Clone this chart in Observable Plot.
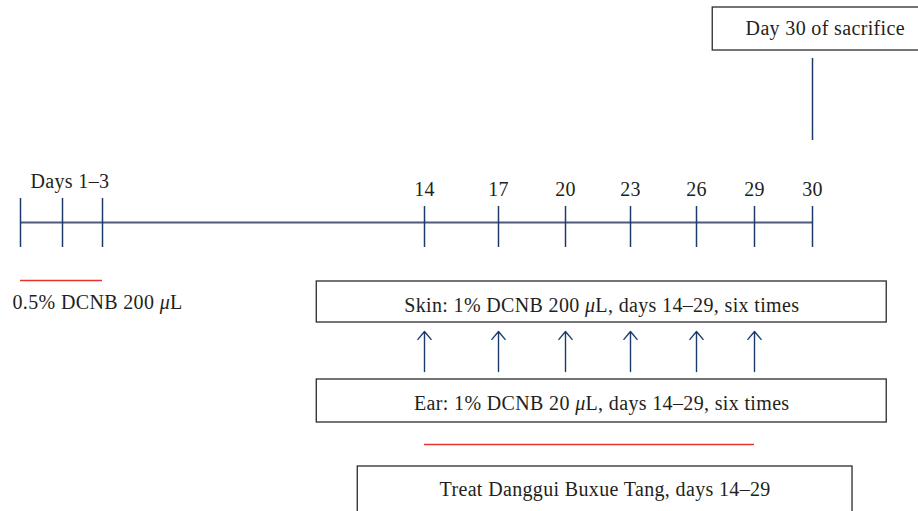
<!DOCTYPE html>
<html>
<head>
<meta charset="utf-8">
<script src="https://cdn.jsdelivr.net/npm/d3@7"></script>
<script src="https://cdn.jsdelivr.net/npm/@observablehq/plot@0.6"></script>
<style>
  html, body { margin: 0; padding: 0; background: #fff; overflow: hidden; }
  #chart svg { display: block; }
  #chart svg text { letter-spacing: 0.35px; }
</style>
</head>
<body>
<div id="chart"></div>
<script>
// ---- data ----
const tickDays = [1, 2, 3, 14, 17, 20, 23, 26, 29, 30];
const labeledDays = [14, 17, 20, 23, 26, 29, 30];
const challengeDays = [14, 17, 20, 23, 26, 29];
const sensitizationSpan = [1, 3];
const treatmentSpan = [14, 29];
const sacrificeDay = 30;
const sensitizationLabel = "Days 1–3";
const sensitizationDose = "0.5% DCNB 200 μL";
const boxLabels = [
  "Day 30 of sacrifice",
  "Skin: 1% DCNB 200 μL, days 14–29, six times",
  "Ear: 1% DCNB 20 μL, days 14–29, six times",
  "Treat Danggui Buxue Tang, days 14–29"
];
const boxStartDay = [26.84, 10.32, 10.32, 11.72];
const boxEndDay = [32.16, 31.28, 31.28, 30.69];

// ---- layout (scale configuration) ----
const W = 918, H = 511;
const xRange = [20, 62, 102, 424, 498, 565, 630, 696, 754, 812];
const boxTop = [7, 281, 379, 466];
const boxBottom = [50, 322, 422, 540];
const boxTextY = [27.6, 304.6, 402.6, 489];

const xs = Plot.scale({x: {type: "linear", domain: tickDays, range: xRange}});
const mid = (a, b) => xs.invert((xs.apply(a) + xs.apply(b)) / 2);

const boxes = boxLabels.map((label, i) => ({
  label, x1: boxStartDay[i], x2: boxEndDay[i], y1: boxTop[i], y2: boxBottom[i],
  xc: mid(boxStartDay[i], boxEndDay[i]), yc: boxTextY[i]
}));

const font = "'Liberation Serif', 'Times New Roman', serif";
const fs = 20;
const ink = "#231f20";
const navy = "#1c3b68";
const lineBlue = "#4d5a7e";
const red = "#e5322d";

const chart = Plot.plot({
  width: W, height: H,
  margin: 0,
  style: {fontFamily: font, fontSize: fs + "px", color: ink, background: "#fff", overflow: "hidden"},
  x: {type: "linear", domain: tickDays, range: xRange, axis: null},
  y: {type: "linear", domain: [0, H], range: [0, H], axis: null},
  marks: [
    // boxes
    Plot.rect(boxes, {x1: "x1", x2: "x2", y1: "y1", y2: "y2", fill: "none", stroke: "#2b2b2b", strokeWidth: 1.3}),
    Plot.text(boxes, {x: "xc", y: "yc", text: "label", fill: ink, fontSize: fs}),
    // sacrifice line
    Plot.ruleX([sacrificeDay], {y1: 58, y2: 140, stroke: navy, strokeWidth: 1.5}),
    // timeline
    Plot.ruleY([222], {x1: tickDays[0], x2: tickDays[tickDays.length - 1], stroke: lineBlue, strokeWidth: 2}),
    Plot.ruleX(tickDays, {x: d => d, y1: d => (d <= 3 ? 198 : 206), y2: 247, stroke: navy, strokeWidth: 1.5}),
    Plot.text(labeledDays, {x: d => d, y: 188.6, text: d => String(d), fill: ink, fontSize: fs}),
    Plot.text([sensitizationLabel], {x: sensitizationSpan[0], dx: 10, y: 180.6, text: d => d, textAnchor: "start", fill: ink, fontSize: fs}),
    // sensitization
    Plot.ruleY([280], {x1: sensitizationSpan[0], x2: sensitizationSpan[1], stroke: red, strokeWidth: 1.3}),
    Plot.text([sensitizationDose], {x: sensitizationSpan[0], dx: -8, y: 301.6, text: d => d, textAnchor: "start", fill: ink, fontSize: fs}),
    // challenge arrows
    Plot.arrow(challengeDays, {x: d => d, y1: 371, y2: 331, stroke: navy, strokeWidth: 1.4, headLength: 11, headAngle: 80}),
    // treatment line
    Plot.ruleY([444], {x1: treatmentSpan[0], x2: treatmentSpan[1], stroke: red, strokeWidth: 1.3})
  ]
});

// italic mu as real text
chart.querySelectorAll("text").forEach(t => {
  const s = t.textContent;
  if (s.includes("μ") && t.childElementCount === 0) {
    const parts = s.split("μ");
    t.textContent = "";
    parts.forEach((p, i) => {
      if (i > 0) {
        const ts = document.createElementNS("http://www.w3.org/2000/svg", "tspan");
        ts.setAttribute("font-style", "italic");
        ts.textContent = "μ";
        t.appendChild(ts);
      }
      t.appendChild(document.createTextNode(p));
    });
  }
});

document.getElementById("chart").appendChild(chart);
</script>
</body>
</html>
